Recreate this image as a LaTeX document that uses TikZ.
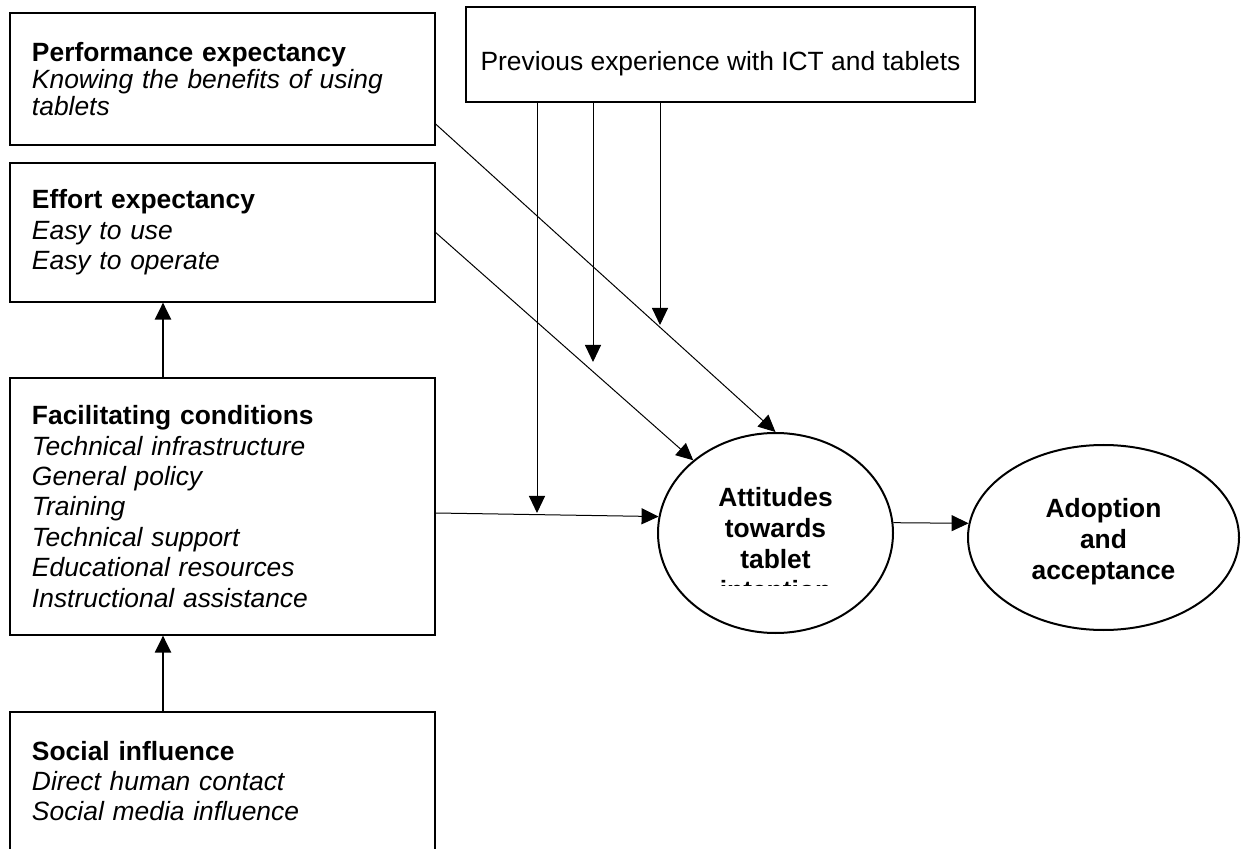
\documentclass[tikz,border=0pt]{standalone}
\usepackage{fontspec}
\setmainfont{Liberation Sans}
\usetikzlibrary{shapes.geometric,arrows.meta}
\begin{document}
\begin{tikzpicture}[x=0.5pt,y=-0.5pt,>={Triangle[length=8.5pt,width=8pt]}]
    \tikzstyle{factor} = [draw,line width=0.6pt,text width=190.5pt,inner xsep=11pt,align=left,font=\fontsize{13.2}{15.2}\selectfont]
    \tikzstyle{outcome} = [draw,ellipse,line width=1pt,inner sep=0pt]
    \tikzstyle{outtext} = [align=center,font=\fontsize{13.2}{15.5}\selectfont\bfseries]
    \tikzstyle{link} = [line width=0.5pt,->]
    \tikzstyle{strong} = [line width=1.1pt,->]

    \useasboundingbox (0,0) rectangle (1241,849);
    \clip (0,0) rectangle (1241,849);

    \node[factor,minimum height=66pt,font=\fontsize{13.2}{13.5}\selectfont] (perf) at (222.5,79) {\textbf{Performance expectancy}\\\textit{Knowing the benefits of using}\\\textit{tablets}};
    \node[factor,minimum height=69.5pt] (eff) at (222.5,232.5) {\textbf{Effort expectancy}\\\textit{Easy to use}\\\textit{Easy to operate}};
    \node[factor,minimum height=128.5pt] (fac) at (222.5,506.5) {\textbf{Facilitating conditions}\\\textit{Technical infrastructure}\\\textit{General policy}\\\textit{Training}\\\textit{Technical support}\\\textit{Educational resources}\\\textit{Instructional assistance}};
    \node[factor,line width=1pt,minimum height=69pt] (soc) at (222.5,781) {\textbf{Social influence}\\\textit{Direct human contact}\\\textit{Social media influence}};

    \node[draw,line width=0.6pt,minimum width=254.5pt,minimum height=47.5pt,text height=19pt,text depth=2.5pt,font=\fontsize{13.2}{15.2}\selectfont] (prev) at (720.5,54.5) {Previous experience with ICT and tablets};

    \node[outcome,minimum width=117.5pt,minimum height=100pt] (att) at (775.5,533) {};
    \node[outcome,minimum width=135.5pt,minimum height=92.5pt] (adopt) at (1103.5,537.5) {};
    \node[outtext] (adoptlbl) at (1103.5,542) {Adoption\\and\\acceptance};

    % last line of the label is cut off
    \begin{scope}
        \clip (640,420) rectangle (910,585);
        \node[outtext] (attlbl) at (775.5,544) {Attitudes\\towards\\tablet\\intention};
    \end{scope}

    \coordinate (p1) at (537,513);
    \coordinate (p2) at (593,362);
    \coordinate (p3) at (660,325);
    \coordinate (col) at (163,0);

    \draw[link] ([yshift=-22.5pt]perf.east) -- (att.north);
    \draw[link] (eff.east) -- (att);
    \draw[link] ([yshift=-3.25pt]fac.east) -- (att.172);

    \draw[link] (p1 |- prev.south) -- (p1);
    \draw[link] (p2 |- prev.south) -- (p2);
    \draw[link] (p3 |- prev.south) -- (p3);

    \draw[strong] (fac.north -| col) -- (eff.south -| col);
    \draw[strong] (soc.north -| col) -- (fac.south -| col);

    \draw[link] (att.5) -- (adopt.174);
\end{tikzpicture}
\end{document}
